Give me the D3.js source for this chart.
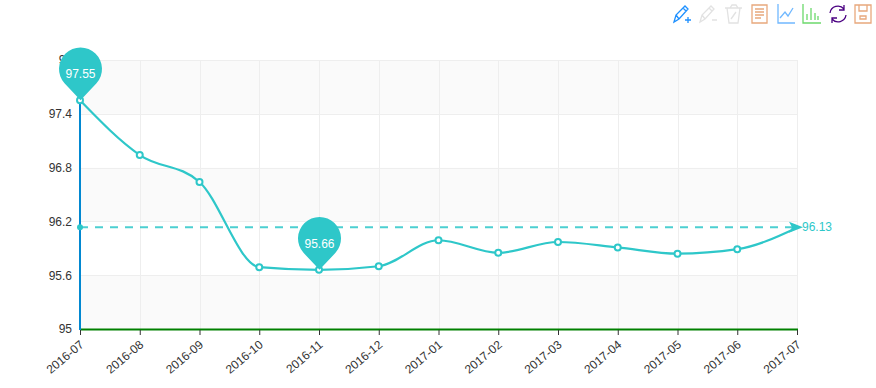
<!DOCTYPE html>
<html><head><meta charset="utf-8">
<script src="https://cdn.jsdelivr.net/npm/d3@7"></script>
<style>html,body{margin:0;padding:0;background:#fff}svg{display:block}text{font-family:"Liberation Sans",Arial,sans-serif;font-size:12px}</style>
</head><body><svg id="c" width="876" height="388"></svg>
<script>
const categories=["2016-07","2016-08","2016-09","2016-10","2016-11","2016-12","2017-01","2017-02","2017-03","2017-04","2017-05","2017-06","2017-07"];
const values=[97.55,96.94,96.64,95.69,95.66,95.7,95.99,95.85,95.97,95.91,95.84,95.89,96.13];
const yTicks=[95,95.6,96.2,96.8,97.4,98];
const pinned=[{i:0,label:"97.55"},{i:4,label:"95.66"}];
const averageValue=96.13;
const color="#2ec7c9";
const svg=d3.select("#c");
const x=d3.scalePoint().domain(categories).range([80,797]);
const y=d3.scaleLinear().domain([95,98]).range([329,60]);
const bands=d3.pairs(yTicks);
svg.append("g").selectAll("rect").data(bands).join("rect")
 .attr("x",80).attr("width",717).attr("y",d=>y(d[1])).attr("height",d=>y(d[0])-y(d[1]))
 .attr("fill",(d,i)=>i%2===0?"#fafafa":"#fff");
svg.append("g").selectAll("line").data(categories.slice(1)).join("line")
 .attr("x1",d=>Math.round(x(d))+.5).attr("x2",d=>Math.round(x(d))+.5).attr("y1",60).attr("y2",329).attr("stroke","#eee");
svg.append("g").selectAll("line").data(yTicks.slice(1)).join("line")
 .attr("x1",80).attr("x2",797).attr("y1",d=>Math.round(y(d))+.5).attr("y2",d=>Math.round(y(d))+.5).attr("stroke","#eee");
const gx=svg.append("g").attr("transform","translate(0,329)")
 .call(d3.axisBottom(x).tickSize(5).tickPadding(5));
gx.select(".domain").attr("stroke","#008000").attr("stroke-width",2).attr("d","M80,0.5H798");
gx.selectAll(".tick line").attr("stroke","#333").attr("y1",1).attr("y2",6);
gx.selectAll(".tick text").attr("x",null).attr("y",null).attr("dy",null)
 .attr("text-anchor","end").attr("fill","#333")
 .attr("transform","translate(4,17) rotate(-40)");
gx.attr("font-family",null).attr("font-size",null);
const gy=svg.append("g").attr("transform","translate(80,0)")
 .call(d3.axisLeft(y).tickValues(yTicks).tickFormat(d=>String(d)).tickSize(0).tickPadding(8));
gy.select(".domain").attr("stroke","#0288d1").attr("stroke-width",2).attr("d","M0,60V330");
gy.selectAll(".tick text").attr("fill","#333");
gy.attr("font-family",null).attr("font-size",null);
const line=d3.line().x(d=>x(d.c)).y(d=>y(d.v)).curve(d3.curveMonotoneX);
const pts=categories.map((c,i)=>({c,v:values[i]}));
svg.append("path").attr("d",line(pts)).attr("fill","none").attr("stroke",color).attr("stroke-width",2.2);
const ay=y(averageValue);
svg.append("line").attr("x1",80).attr("x2",797).attr("y1",ay-.5).attr("y2",ay-.5)
 .attr("stroke",color).attr("stroke-width",2).attr("stroke-dasharray","8 7").attr("opacity",.85);
svg.append("circle").attr("cx",80).attr("cy",ay-.5).attr("r",3).attr("fill",color);
svg.append("path").attr("d",`M789,${ay-6}L803,${ay-.5}L789,${ay+5}L792,${ay-.5}Z`).attr("fill",color);
svg.append("text").attr("x",802).attr("y",ay+3.5).attr("fill",color).text(averageValue);
svg.append("g").selectAll("circle").data(pts.slice(0,-1)).join("circle")
 .attr("cx",d=>x(d.c)).attr("cy",d=>y(d.v)).attr("r",3).attr("fill","#fff").attr("stroke",color).attr("stroke-width",2);
const pin=svg.append("g").selectAll("g").data(pinned).join("g")
 .attr("transform",d=>`translate(${x(categories[d.i])+.5},${y(values[d.i])})`);
pin.append("path").attr("d","M0,0L-16,-17A21.5,21.5 0 1 1 16,-17Z").attr("fill",color);
pin.append("text").attr("y",-22).attr("text-anchor","middle").attr("fill","#fff").text(d=>d.label);
const tb=svg.append("g").attr("fill","none").attr("stroke-width",1.3);
const icon=(tx,stroke,d)=>{const g=tb.append("g").attr("transform",`translate(${tx},4)`).attr("stroke",stroke);g.append("path").attr("d",d);return g;};
icon(673,"#1e90ff","M1,18L3,11L12,2L15,5L6,15ZM3,11L6,15M10,4L13,7M12,16H18M15,13V19");
icon(699,"#e2e2e2","M1,18L3,11L12,2L15,5L6,15ZM3,11L6,15M10,4L13,7M13,16H18");
icon(725,"#e2e2e2","M0,4H17M5,4L7,1H11L13,4M2,4L4,19H13L15,4M6,15L11,8");
icon(751,"#e8a87c","M1,1H16V19H1ZM4,5H13M4,8H13M4,11H13M4,14H10");
icon(777,"#70b8ff","M1,0V19H18M3,14L8,8L11,12L16,4");
icon(802,"#6cd96c","M1,0V19H19M5,16V10M9,16V4M13,16V9M16,16V12");
icon(828,"#4b0082","M2,9A8,8 0 0 1 16,5M16,1V6H11M18,11A8,8 0 0 1 4,15M4,19V14H9");
icon(854,"#e8a87c","M1,1H17V19H1ZM5,1V7H13V1M6,12H12V15H6Z");
</script></body></html>
